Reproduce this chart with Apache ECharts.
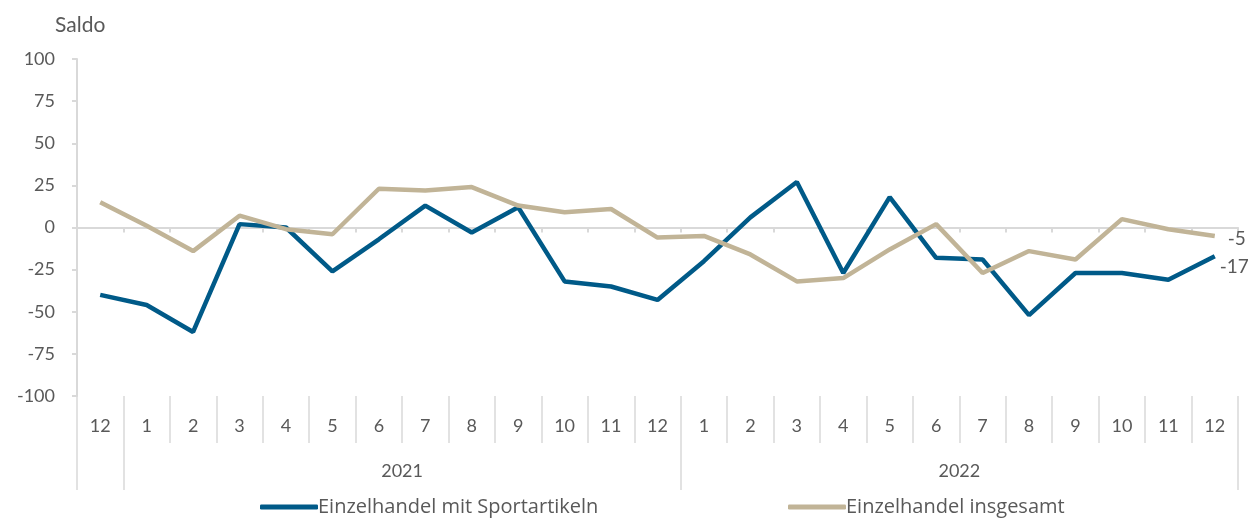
<!DOCTYPE html>
<html><head><meta charset="utf-8">
<script src="https://cdn.jsdelivr.net/npm/echarts@6/dist/echarts.min.js"></script>
<style>html,body{margin:0;padding:0;background:#fff}#c{width:1250px;height:519px}</style>
</head><body><div id="c"></div>
<script>
const months = ['12','1','2','3','4','5','6','7','8','9','10','11','12','1','2','3','4','5','6','7','8','9','10','11','12'];
const years = ['2021','2022'];
const yearLabelPos = [7, 19];
const yearBounds = [0, 1, 13, 25];
const sportSeries = [-40,-46,-62,2,0,-26,-7,13,-3,12,-32,-35,-43,-20,6,27,-27,18,-18,-19,-52,-27,-27,-31,-17];
const totalSeries = [15,1,-14,7,-1,-4,23,22,24,13,9,11,-6,-5,-16,-32,-30,-13,2,-27,-14,-19,5,-1,-5];
const seriesNames = ['Einzelhandel mit Sportartikeln','Einzelhandel insgesamt'];
const yTicks = {min:-100, max:100, interval:25};

const FONT = 'Lato';
const TXT = '#595959';
const GRIDC = '#d9d9d9';
const gridRect = {left:77, right:12, top:59, bottom:123};
const legendBase = {bottom:-3, itemWidth:58, itemHeight:5, icon:'roundRect',
  textStyle:{fontFamily:'Open Sans', fontSize:20, color:TXT, padding:[0,0,0,-5]}};

const chart = echarts.init(document.getElementById('c'));
chart.setOption({
  animation:false,
  textStyle:{fontFamily:FONT},
  title:{text:'Saldo', left:50, top:10, textStyle:{fontFamily:FONT, fontSize:21, fontWeight:'normal', color:TXT}},
  legend:[
    Object.assign({left:255, data:[seriesNames[0]]}, legendBase),
    Object.assign({left:783, data:[seriesNames[1]]}, legendBase)
  ],
  grid:[Object.assign({}, gridRect), Object.assign({}, gridRect), Object.assign({}, gridRect)],
  xAxis:[
    {gridIndex:0, type:'category', data:months, boundaryGap:true,
     axisLine:{onZero:true, lineStyle:{color:GRIDC, width:2}},
     axisTick:{show:true, length:5, lineStyle:{color:GRIDC, width:2}},
     axisLabel:{show:false}, splitLine:{show:false}},
    {gridIndex:1, type:'category', data:months, boundaryGap:true, position:'bottom',
     axisLine:{show:false, onZero:false},
     axisTick:{show:true, length:47, interval:0, lineStyle:{color:GRIDC, width:1.5}},
     axisLabel:{show:true, interval:0, margin:21, fontSize:18, color:TXT, fontFamily:FONT},
     splitLine:{show:false}},
    {gridIndex:2, type:'value', min:0, max:25, position:'bottom',
     axisLine:{show:false, onZero:false},
     axisTick:{show:true, length:94, customValues:yearBounds, lineStyle:{color:GRIDC, width:1.5}},
     axisLabel:{show:true, customValues:yearLabelPos, margin:66, fontSize:18, color:TXT, fontFamily:FONT,
       formatter:function(v){ const i = yearLabelPos.indexOf(v); return i >= 0 ? years[i] : ''; }},
     splitLine:{show:false}}
  ],
  yAxis:[
    {gridIndex:0, type:'value', min:yTicks.min, max:yTicks.max, interval:yTicks.interval,
     axisLine:{show:true, lineStyle:{color:GRIDC, width:2}},
     axisTick:{show:true, length:5, lineStyle:{color:GRIDC, width:2}},
     axisLabel:{margin:22, fontSize:18, color:TXT, fontFamily:FONT},
     splitLine:{show:false}},
    {gridIndex:1, type:'value', show:false, min:-100, max:100},
    {gridIndex:2, type:'value', show:false, min:-100, max:100}
  ],
  series:[
    {name:seriesNames[0], type:'line', xAxisIndex:0, yAxisIndex:0, data:sportSeries,
     symbol:'none', lineStyle:{color:'#005a88', width:4.5}, itemStyle:{color:'#005a88'},
     endLabel:{show:true, formatter:function(p){return p.value;}, fontSize:19, color:TXT, fontFamily:FONT, distance:5, offset:[0,11]}},
    {name:seriesNames[1], type:'line', xAxisIndex:0, yAxisIndex:0, data:totalSeries,
     symbol:'none', lineStyle:{color:'#c1b497', width:4.5}, itemStyle:{color:'#c1b497'},
     endLabel:{show:true, formatter:function(p){return p.value;}, fontSize:19, color:TXT, fontFamily:FONT, distance:13, offset:[0,3]}}
  ]
});
</script></body></html>
